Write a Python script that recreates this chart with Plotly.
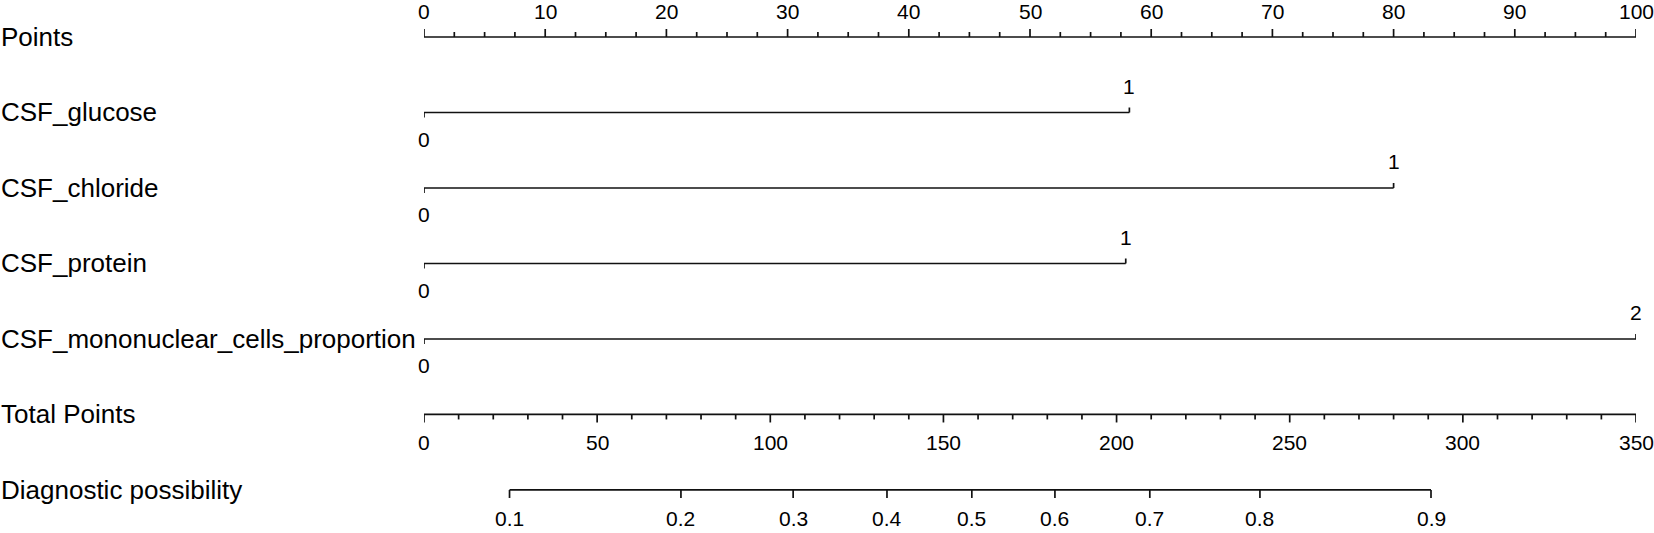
import numpy as np
import plotly.graph_objects as go

# rows of the nomogram, top to bottom
row_labels = ["Points", "CSF_glucose", "CSF_chloride", "CSF_protein",
              "CSF_mononuclear_cells_proportion", "Total Points", "Diagnostic possibility"]

points_ticks = [0, 10, 20, 30, 40, 50, 60, 70, 80, 90, 100]

variables = ["CSF_glucose", "CSF_chloride", "CSF_protein", "CSF_mononuclear_cells_proportion"]
var_low = ["0", "0", "0", "0"]
var_high = ["1", "1", "1", "2"]
var_points = [58.2, 80.0, 57.9, 100.0]

total_ticks = [0, 50, 100, 150, 200, 250, 300, 350]

prob_labels = ["0.1", "0.2", "0.3", "0.4", "0.5", "0.6", "0.7", "0.8", "0.9"]
prob_total_points = [24.7, 74.2, 106.6, 133.7, 158.2, 182.2, 209.6, 241.4, 290.8]

LINE = dict(color="#111111", width=1.7)
FONT = "Liberation Sans, Arial, Helvetica, sans-serif"
MAJ = 0.106   # tick lengths in row units
MIN = 0.066

fig = go.Figure()


def segs(xs, y0, y1, axis="x"):
    x, y = [], []
    for v in xs:
        x += [v, v, None]
        y += [y0, y1, None]
    fig.add_trace(go.Scatter(x=x, y=y, mode="lines", line=LINE, xaxis=axis,
                             hoverinfo="skip", showlegend=False))


def hline(x0, x1, yv, axis="x"):
    fig.add_trace(go.Scatter(x=[x0, x1], y=[yv, yv], mode="lines", line=LINE,
                             xaxis=axis, hoverinfo="skip", showlegend=False))


def label(xv, yv, text, shift, axis="x"):
    fig.add_annotation(x=xv, y=yv, xref=axis, yref="y", text=text, showarrow=False,
                       yshift=shift, font=dict(family=FONT, size=21, color="black"))


# Points axis (row 0)
hline(points_ticks[0], points_ticks[-1], 0)
segs(points_ticks, 0, -MAJ)
segs([v for v in np.arange(0, 100.01, 2.5) if v % 10], 0, -MIN)
for t in points_ticks:
    label(t, 0, str(t), 25)

# predictor rows
for i, name in enumerate(variables):
    r = i + 1
    hline(0, var_points[i], r)
    segs([0], r, r + MIN)
    segs([var_points[i]], r, r - MIN)
    label(0, r, var_low[i], -27)
    label(var_points[i], r, var_high[i], 26)

# Total points axis (row 5), on its own 0-350 scale
hline(total_ticks[0], total_ticks[-1], 5, "x2")
segs(total_ticks, 5, 5 + MAJ, "x2")
segs([v for v in range(0, 351, 10) if v % 50], 5, 5 + MIN, "x2")
for t in total_ticks:
    label(t, 5, str(t), -28, "x2")

# Diagnostic possibility (row 6)
hline(prob_total_points[0], prob_total_points[-1], 6, "x2")
segs(prob_total_points, 6, 6 + MAJ, "x2")
for p, lab in zip(prob_total_points, prob_labels):
    label(p, 6, lab, -29, "x2")

# row names at the left edge
for r, name in enumerate(row_labels):
    fig.add_annotation(x=0, y=r, xref="paper", yref="y", text=name, showarrow=False,
                       xanchor="left", xshift=-425,
                       font=dict(family=FONT, size=26, color="black"))

fig.update_layout(
    width=1654, height=533,
    margin=dict(l=424, r=18, t=0, b=0),
    plot_bgcolor="white", paper_bgcolor="white",
    xaxis=dict(range=[0, 100], visible=False, fixedrange=True),
    xaxis2=dict(range=[0, 350], visible=False, overlaying="x", fixedrange=True),
    yaxis=dict(range=[6.57, -0.49], visible=False, fixedrange=True),
    showlegend=False,
)

fig.write_html("out.html", config={"displayModeBar": False},
               post_script="document.body.style.margin='0px';document.body.style.overflow='hidden';")
